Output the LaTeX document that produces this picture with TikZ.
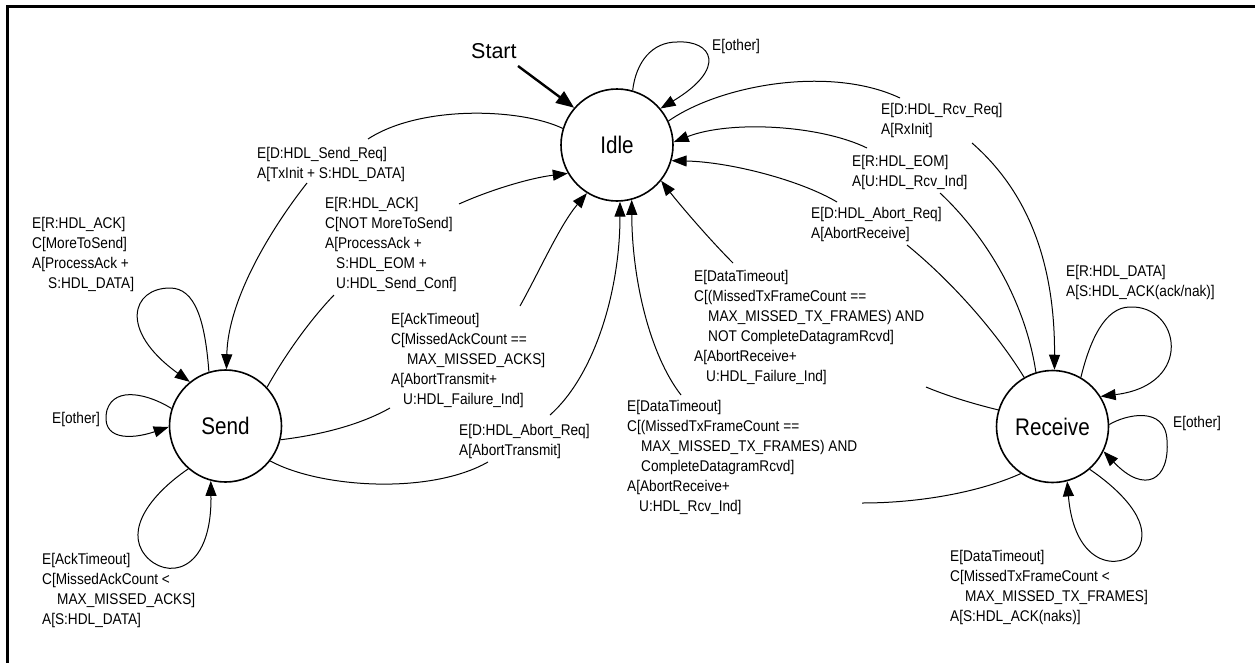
\documentclass[tikz,border=0pt]{standalone}
\usepackage{fontspec}
\setmainfont{Liberation Sans}
\newfontfamily\labfont{Liberation Sans}[FakeStretch=0.88]
\newfontfamily\statefont{Liberation Sans}[FakeStretch=0.86]
\usetikzlibrary{arrows.meta}
\begin{document}
\begin{tikzpicture}[x=1pt,y=-1pt,
  state/.style={circle,draw,line width=1.6pt,minimum size=112pt,inner sep=0pt,font=\statefont\fontsize{24}{28}\selectfont},
  lab/.style={anchor=north west,inner sep=0pt,align=left,font=\labfont\fontsize{15.5}{20}\selectfont},
  edge/.style={line width=1pt},
  arr/.style={edge,-{Triangle[length=15pt,width=11pt]}},
  startarr/.style={line width=2.4pt,-{Triangle[length=18pt,width=14pt]}}
]
\useasboundingbox (0,0) rectangle (1255,662);
\draw[line width=3pt] (7,6) rectangle (1275,685);

% states
\node[state] (idle) at (617,145) {Idle};
\node[state] (send) at (225.5,426) {Send};
\node[state] (recv) at (1052.5,426.5) {Receive};

% start
\node[anchor=north west,inner sep=0pt,font=\fontsize{21.5}{26}\selectfont] (startlab) at (471,43) {Start};
\coordinate (startend) at (518,66);

% labels
\node[lab] (l1) at (712,39) {E[other]};
\node[lab] (l2) at (881,103) {E[D:HDL\_Rcv\_Req]\\A[RxInit]};
\node[lab] (l3) at (852,155) {E[R:HDL\_EOM]\\A[U:HDL\_Rcv\_Ind]};
\node[lab] (l4) at (811,207) {E[D:HDL\_Abort\_Req]\\A[AbortReceive]};
\node[lab] (l5) at (694,270) {E[DataTimeout]\\C[(MissedTxFrameCount ==\\\hspace*{14pt}MAX\_MISSED\_TX\_FRAMES) AND\\\hspace*{14pt}NOT CompleteDatagramRcvd]\\A[AbortReceive+\\\hspace*{12pt}U:HDL\_Failure\_Ind]};
\node[lab] (l6) at (627,400) {E[DataTimeout]\\C[(MissedTxFrameCount ==\\\hspace*{14pt}MAX\_MISSED\_TX\_FRAMES) AND\\\hspace*{14pt}CompleteDatagramRcvd]\\A[AbortReceive+\\\hspace*{12pt}U:HDL\_Rcv\_Ind]};
\node[lab] (l7) at (1066,265) {E[R:HDL\_DATA]\\A[S:HDL\_ACK(ack/nak)]};
\node[lab] (l8) at (1173,416) {E[other]};
\node[lab] (l9) at (950,550) {E[DataTimeout]\\C[MissedTxFrameCount <\\\hspace*{15pt}MAX\_MISSED\_TX\_FRAMES]\\A[S:HDL\_ACK(naks)]};
\node[lab] (l10) at (257,147) {E[D:HDL\_Send\_Req]\\A[TxInit + S:HDL\_DATA]};
\node[lab] (l11) at (325,197) {E[R:HDL\_ACK]\\C[NOT MoreToSend]\\A[ProcessAck +\\\hspace*{11pt}S:HDL\_EOM +\\\hspace*{11pt}U:HDL\_Send\_Conf]};
\node[lab] (l12) at (32,217) {E[R:HDL\_ACK]\\C[MoreToSend]\\A[ProcessAck +\\\hspace*{16pt}S:HDL\_DATA]};
\node[lab] (l13) at (52,412) {E[other]};
\node[lab] (l14) at (391,313) {E[AckTimeout]\\C[MissedAckCount ==\\\hspace*{16pt}MAX\_MISSED\_ACKS]\\A[AbortTransmit+\\\hspace*{12pt}U:HDL\_Failure\_Ind]};
\node[lab] (l15) at (459,424) {E[D:HDL\_Abort\_Req]\\A[AbortTransmit]};
\node[lab] (l16) at (42,553) {E[AckTimeout]\\C[MissedAckCount <\\\hspace*{15pt}MAX\_MISSED\_ACKS]\\A[S:HDL\_DATA]};

% start arrow
\draw[startarr] (startend) -- (idle.139);

% idle self loop
\draw[arr] (idle.74) .. controls (636,62) and (652,42) .. (677,42) .. controls (712,40) and (728,68) .. (idle.40);

% Idle -> Receive (Rcv_Req)
\draw[arr] (idle.25) .. controls (720,85) and (830,65) .. (900,98)
  (972,143) .. controls (1020,185) and (1055,250) .. (recv.88);
% Receive -> Idle (EOM)
\draw[arr] (recv.107) .. controls (1025,300) and (985,235) .. (940,193)
  (867,148) .. controls (820,125) and (730,120) .. (idle.3);
% Receive -> Idle (Abort_Req)
\draw[arr] (recv.120) .. controls (995,330) and (950,280) .. (907,245)
  (837,202) .. controls (800,180) and (730,162) .. (idle.-16);
% Receive -> Idle (DataTimeout, NOT complete)
\draw[arr] (recv.163) .. controls (970,403) and (945,395) .. (926,387)
  (733,263) .. controls (710,240) and (680,205) .. (idle.-39);
% Receive -> Idle (DataTimeout, complete)
\draw[arr] (recv.236) .. controls (980,492) and (920,503) .. (862,503)
  (681,395) .. controls (650,355) and (632,280) .. (idle.-75.5);

% Idle -> Send (Send_Req)
\draw[arr] (idle.163) .. controls (520,108) and (420,105) .. (368,139)
  (307,183) .. controls (270,230) and (228,300) .. (send.89);
% Send -> Idle (Abort_Req)
\draw[arr] (send.-38) .. controls (320,488) and (430,495) .. (488,462)
  (550,415) .. controls (595,375) and (620,290) .. (idle.-87);
% Send -> Idle (AckTimeout ==)
\draw[arr] (send.-14) .. controls (320,435) and (360,425) .. (390,408)
  (520,306) .. controls (540,270) and (560,225) .. (idle.-122);
% Send -> Idle (NOT MoreToSend)
\draw[arr] (send.43) .. controls (285,355) and (310,320) .. (334,295)
  (459,204) .. controls (490,190) and (530,178) .. (idle.-150);

% Send loops
\draw[arr] (send.107) .. controls (205,320) and (195,288) .. (170,288) .. controls (132,288) and (118,330) .. (send.129);
\draw[arr] (send.162) .. controls (150,395) and (115,385) .. (107,410) .. controls (100,440) and (130,440) .. (send.181);
\draw[arr] (send.229) .. controls (150,495) and (125,530) .. (145,555) .. controls (165,580) and (212,575) .. (send.255.5);

% Receive loops
\draw[arr] (recv.60) .. controls (1090,340) and (1105,307) .. (1130,307) .. controls (1180,305) and (1195,385) .. (recv.32);
\draw[arr] (recv.2) .. controls (1125,415) and (1165,405) .. (1167,440) .. controls (1170,480) and (1145,495) .. (recv.-26);
\draw[arr] (recv.-49) .. controls (1120,490) and (1150,520) .. (1140,545) .. controls (1130,570) and (1075,575) .. (recv.-75);
\end{tikzpicture}
\end{document}
